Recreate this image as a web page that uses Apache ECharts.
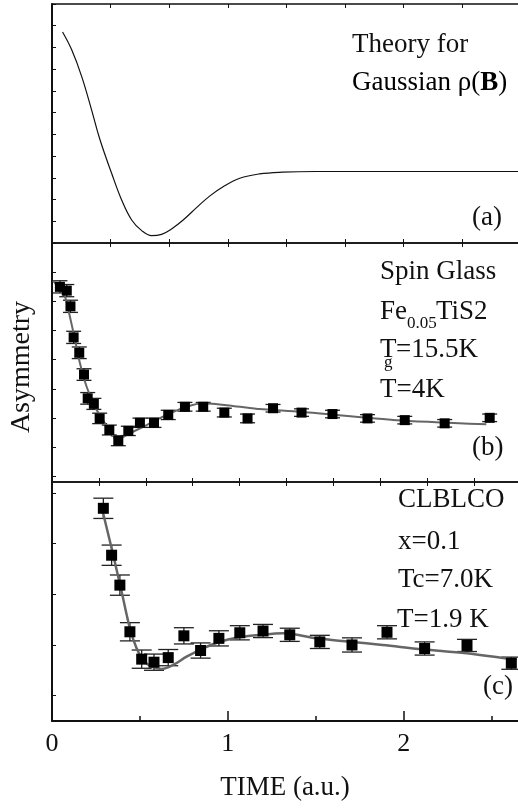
<!DOCTYPE html>
<html>
<head>
<meta charset="utf-8">
<script src="https://cdn.jsdelivr.net/npm/echarts/dist/echarts.min.js"></script>
<style>
  html, body { margin: 0; padding: 0; background: #fff; }
  #main { width: 518px; height: 809px; }
</style>
</head>
<body>
<div id="main"></div>
<script>
// (a) theory curve for gaussian field distribution
var theoryT = [0.06, 0.112, 0.169, 0.225, 0.273, 0.339, 0.396, 0.453, 0.51, 0.566, 0.623, 0.68, 0.746, 0.822, 0.898, 0.973, 1.068, 1.18, 1.31, 1.5, 1.8, 2.2, 2.65];
var theoryA = [9.71, 8.89, 7.66, 6.13, 4.75, 3.21, 1.98, 1.06, 0.57, 0.34, 0.40, 0.65, 1.06, 1.63, 2.17, 2.59, 2.98, 3.18, 3.26, 3.29, 3.29, 3.29, 3.29];

// (b) spin glass Fe0.05TiS2
var sgT = [0.045, 0.084, 0.105, 0.123, 0.155, 0.182, 0.203, 0.238, 0.271, 0.326, 0.377, 0.434, 0.50, 0.58, 0.661, 0.756, 0.86, 0.98, 1.112, 1.257, 1.419, 1.595, 1.794, 2.006, 2.233, 2.489];
var sgA = [6.72, 6.59, 6.05, 4.98, 4.45, 3.70, 2.88, 2.69, 2.19, 1.79, 1.42, 1.76, 2.04, 2.04, 2.31, 2.59, 2.59, 2.39, 2.19, 2.54, 2.39, 2.34, 2.19, 2.13, 2.02, 2.21];
var sgErr = [0.21, 0.21, 0.21, 0.21, 0.2, 0.2, 0.2, 0.19, 0.18, 0.17, 0.17, 0.16, 0.16, 0.16, 0.16, 0.15, 0.15, 0.15, 0.15, 0.13, 0.13, 0.13, 0.13, 0.13, 0.13, 0.13];
var sgFitT = [0.007, 0.074, 0.102, 0.131, 0.159, 0.197, 0.244, 0.301, 0.339, 0.368, 0.424, 0.538, 0.652, 0.765, 0.86, 1.028, 1.182, 1.41, 1.96, 2.47];
var sgFitA = [6.93, 6.38, 5.69, 4.89, 4.09, 3.28, 2.59, 2.02, 1.69, 1.42, 1.62, 1.96, 2.31, 2.59, 2.71, 2.62, 2.51, 2.42, 2.13, 1.99];

// (c) CLBLCO x=0.1
var cT = [0.292, 0.339, 0.386, 0.443, 0.51, 0.58, 0.661, 0.75, 0.845, 0.949, 1.068, 1.2, 1.352, 1.523, 1.706, 1.905, 2.119, 2.36, 2.612];
var cA = [4.195, 3.27, 2.68, 1.76, 1.22, 1.16, 1.25, 1.68, 1.39, 1.63, 1.74, 1.775, 1.70, 1.56, 1.50, 1.75, 1.43, 1.49, 1.14];
var cErr = [0.2, 0.2, 0.2, 0.18, 0.18, 0.16, 0.16, 0.16, 0.15, 0.15, 0.14, 0.13, 0.13, 0.13, 0.14, 0.13, 0.13, 0.12, 0.12];
var cFitT = [0.277, 0.339, 0.396, 0.443, 0.481, 0.519, 0.566, 0.623, 0.689, 0.765, 0.86, 0.955, 1.049, 1.182, 1.313, 1.504, 1.693, 1.88, 2.108, 2.358, 2.642];
var cFitA = [4.294, 3.406, 2.55, 1.83, 1.434, 1.203, 1.071, 1.026, 1.105, 1.268, 1.434, 1.564, 1.643, 1.696, 1.73, 1.63, 1.564, 1.50, 1.414, 1.335, 1.203];

var xLabels = [0, 1, 2];
var xMinor = [0.5, 1.5, 2.5];

var SERIF = '"Liberation Serif", "Times New Roman", serif';
var INK = '#111';

function zip(a, b, c) {
  return a.map(function (v, i) { return c ? [v, b[i], c[i]] : [v, b[i]]; });
}

function errorBars(capW) {
  return function (params, api) {
    var x = api.value(0), y = api.value(1), d = api.value(2);
    var hi = api.coord([x, y + d]);
    var lo = api.coord([x, y - d]);
    var w = capW / 2;
    var st = { stroke: '#222', lineWidth: 1.3 };
    return {
      type: 'group',
      children: [
        { type: 'line', shape: { x1: hi[0], y1: hi[1], x2: lo[0], y2: lo[1] }, style: st },
        { type: 'line', shape: { x1: hi[0] - w, y1: hi[1], x2: hi[0] + w, y2: hi[1] }, style: st },
        { type: 'line', shape: { x1: lo[0] - w, y1: lo[1], x2: lo[0] + w, y2: lo[1] }, style: st }
      ]
    };
  };
}

function frameX(grid, pos, interval, len, lineW) {
  return {
    type: 'value', gridIndex: grid, position: pos, min: 0, max: 2.65, interval: interval,
    axisLine: { show: true, onZero: false, lineStyle: { color: INK, width: lineW } },
    axisTick: { show: true, inside: true, length: len, lineStyle: { color: INK, width: 1 } },
    axisLabel: { show: false },
    splitLine: { show: false }
  };
}

function leftY(grid, max, tickOpt) {
  return {
    type: 'value', gridIndex: grid, min: 0, max: max,
    interval: tickOpt.interval,
    axisLine: { show: true, onZero: false, lineStyle: { color: INK, width: 2 } },
    axisTick: Object.assign({ show: true, inside: true, length: 4, lineStyle: { color: INK, width: 1 } }, tickOpt.custom ? { customValues: tickOpt.custom } : {}),
    axisLabel: { show: false },
    splitLine: { show: false }
  };
}

function txt(x, y, text, size, extra, rot) {
  return {
    type: 'text', x: x, y: y, silent: true, rotation: rot || 0,
    style: Object.assign({
      text: text, fill: INK,
      font: size + 'px ' + SERIF,
      align: 'left', verticalAlign: 'middle'
    }, extra || {})
  };
}

var chart = echarts.init(document.getElementById('main'), null, { renderer: 'canvas' });

var option = {
  backgroundColor: '#ffffff',
  animation: false,
  grid: [
    { left: 52, right: 0, top: 4, height: 239 },
    { left: 52, right: 0, top: 243, height: 239 },
    { left: 52, right: 0, top: 482, height: 239 }
  ],
  xAxis: [
    frameX(0, 'top', 1 / 3, 4, 1.5),
    frameX(0, 'bottom', 1 / 3, 4, 1.5),
    frameX(1, 'top', 1 / 3, 4, 1.5),
    frameX(1, 'bottom', 0.2667, 4, 1.5),
    frameX(2, 'top', 0.2667, 4, 1.5),
    {
      type: 'value', gridIndex: 2, position: 'bottom', min: 0, max: 2.65,
      name: 'TIME (a.u.)', nameLocation: 'middle', nameGap: 53,
      nameTextStyle: { fontFamily: SERIF, fontSize: 27, color: INK },
      axisLine: { show: true, onZero: false, lineStyle: { color: INK, width: 2 } },
      axisTick: { show: true, inside: true, length: 10, customValues: xLabels, lineStyle: { color: INK, width: 1.5 } },
      axisLabel: { show: true, customValues: xLabels, margin: 10, fontFamily: SERIF, fontSize: 26, color: INK },
      splitLine: { show: false }
    },
    {
      type: 'value', gridIndex: 2, position: 'bottom', min: 0, max: 2.65,
      axisLine: { show: false },
      axisTick: { show: true, inside: true, length: 5, customValues: xMinor, lineStyle: { color: INK, width: 1.5 } },
      axisLabel: { show: false },
      splitLine: { show: false }
    }
  ],
  yAxis: [
    leftY(0, 11, { interval: 1 }),
    leftY(1, 8.23, { custom: [0.21, 1.21, 2.21, 3.21, 4.21, 5.21, 6.21, 7.21] }),
    leftY(2, 4.714, { custom: [0.5, 1.5, 2.5, 3.5, 4.5] })
  ],
  series: [
    {
      type: 'line', xAxisIndex: 1, yAxisIndex: 0,
      data: zip(theoryT, theoryA), smooth: 0.4, symbol: 'none',
      lineStyle: { color: INK, width: 1.2 }
    },
    {
      type: 'line', xAxisIndex: 3, yAxisIndex: 1,
      data: zip(sgFitT, sgFitA), smooth: 0.2, symbol: 'none', z: 3,
      lineStyle: { color: '#666', width: 2 }
    },
    {
      type: 'custom', xAxisIndex: 3, yAxisIndex: 1,
      data: zip(sgT, sgA, sgErr), renderItem: errorBars(15),
      encode: { x: 0, y: 1 }, z: 2
    },
    {
      type: 'scatter', xAxisIndex: 3, yAxisIndex: 1,
      data: zip(sgT, sgA), symbol: 'rect', symbolSize: 10,
      itemStyle: { color: '#000', opacity: 1 }, z: 4
    },
    {
      type: 'line', xAxisIndex: 5, yAxisIndex: 2,
      data: zip(cFitT, cFitA), smooth: 0.35, symbol: 'none', z: 3,
      lineStyle: { color: '#666', width: 2.5 }
    },
    {
      type: 'custom', xAxisIndex: 5, yAxisIndex: 2,
      data: zip(cT, cA, cErr), renderItem: errorBars(20),
      encode: { x: 0, y: 1 }, z: 2
    },
    {
      type: 'scatter', xAxisIndex: 5, yAxisIndex: 2,
      data: zip(cT, cA), symbol: 'rect', symbolSize: 11,
      itemStyle: { color: '#000', opacity: 1 }, z: 4
    }
  ],
  graphic: [
    txt(22, 367, 'Asymmetry', 28, { align: 'center' }, Math.PI / 2),
    // panel a
    txt(352, 45, 'Theory for', 27),
    {
      type: 'text', x: 352, y: 83, silent: true,
      style: {
        text: '{n|Gaussian ρ(}{b|B}{n|)}', align: 'left', verticalAlign: 'middle',
        rich: {
          n: { fontFamily: SERIF, fontSize: 27, color: INK },
          b: { fontFamily: SERIF, fontSize: 27, fontWeight: 'bold', color: INK }
        }
      }
    },
    txt(472, 218, '(a)', 27),
    // panel b
    txt(380, 272, 'Spin Glass', 27),
    txt(380, 312, 'Fe', 27),
    txt(407, 324, '0.05', 17),
    txt(436, 312, 'TiS2', 27),
    txt(380, 350, 'T', 27),
    txt(384, 363, 'g', 17),
    txt(396, 350, '=15.5K', 27),
    txt(380, 390, 'T=4K', 27),
    txt(472, 448, '(b)', 27),
    // panel c
    txt(398, 500, 'CLBLCO', 27),
    txt(398, 542, 'x=0.1', 27),
    txt(398, 580, 'Tc=7.0K', 27),
    txt(397, 620, 'T=1.9 K', 27),
    txt(483, 687, '(c)', 27)
  ]
};

chart.setOption(option);
</script>
</body>
</html>
